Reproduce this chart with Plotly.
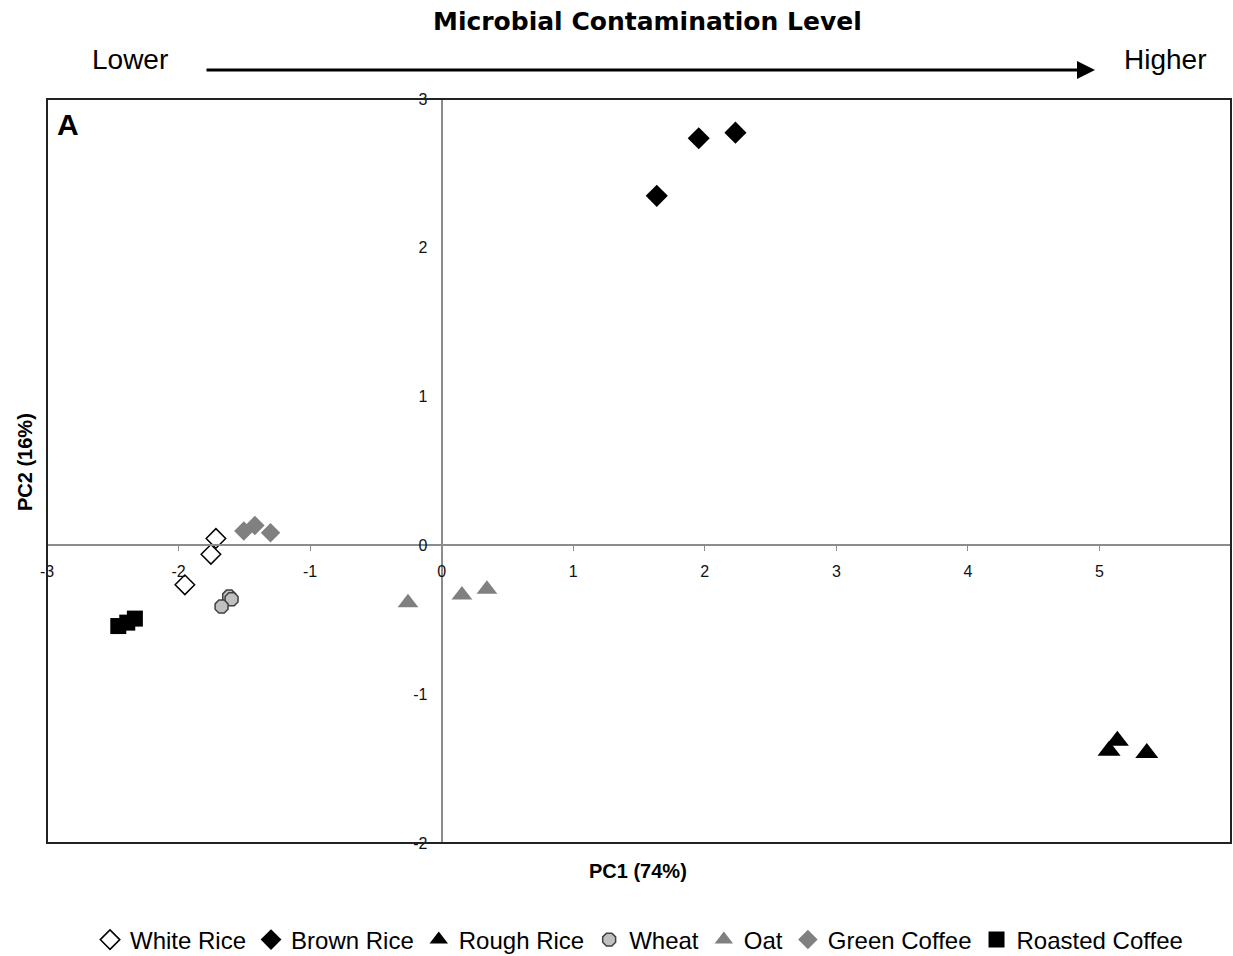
import plotly.graph_objects as go

# ---- data (PC1, PC2 scores) ----
white_rice_x = [-1.716, -1.754, -1.952]
white_rice_y = [0.047, -0.060, -0.265]
brown_rice_x = [1.635, 1.954, 2.233]
brown_rice_y = [2.349, 2.736, 2.774]
rough_rice_x = [5.073, 5.136, 5.360]
rough_rice_y = [-1.380, -1.313, -1.396]
wheat_x = [-1.615, -1.597, -1.673]
wheat_y = [-0.344, -0.362, -0.411]
oat_x = [-0.256, 0.154, 0.344]
oat_y = [-0.385, -0.333, -0.295]
green_coffee_x = [-1.504, -1.420, -1.301]
green_coffee_y = [0.096, 0.134, 0.085]
roasted_coffee_x = [-2.458, -2.390, -2.332]
roasted_coffee_y = [-0.542, -0.519, -0.492]

x_ticks = [-3, -2, -1, 0, 1, 2, 3, 4, 5, 6]
y_ticks = [-2, -1, 0, 1, 2, 3]

series = [
    ("White Rice", white_rice_x, white_rice_y, dict(symbol="diamond-open", size=15, color="black", line=dict(width=1.5, color="black"))),
    ("Brown Rice", brown_rice_x, brown_rice_y, dict(symbol="diamond", size=17, color="black")),
    ("Rough Rice", rough_rice_x, rough_rice_y, dict(symbol="triangle-up", size=20, color="black")),
    ("Wheat", wheat_x, wheat_y, dict(symbol="octagon", size=14, color="#c0c0c0", line=dict(width=1.5, color="#404040"))),
    ("Oat", oat_x, oat_y, dict(symbol="triangle-up", size=18, color="#808080")),
    ("Green Coffee", green_coffee_x, green_coffee_y, dict(symbol="diamond", size=15, color="#808080")),
    ("Roasted Coffee", roasted_coffee_x, roasted_coffee_y, dict(symbol="square", size=16, color="black")),
]

fig = go.Figure()
for name, xs, ys, mk in series:
    fig.add_trace(go.Scatter(x=xs, y=ys, mode="markers", name=name, marker=mk))

font = "Liberation Sans, Arial, sans-serif"
L, T, W, H = 47, 99, 1184, 744


def px(xp):
    return (xp - L) / W


def py(yp):
    return (T + H - yp) / H


def label(text, x, y, size, fam=font, angle=0):
    return dict(text=text, xref="paper", yref="paper", x=px(x), y=py(y),
                xanchor="center", yanchor="middle", showarrow=False, textangle=angle,
                font=dict(size=size, family=fam, color="black"))


fig.update_layout(
    width=1233, height=956,
    margin=dict(l=L, r=1233 - L - W, t=T, b=956 - T - H, autoexpand=False),
    paper_bgcolor="white", plot_bgcolor="white",
    font=dict(family=font, color="black"),
    showlegend=True,
    legend=dict(orientation="h", x=0.5, xanchor="center", y=py(940), yanchor="middle",
                font=dict(size=24, family=font), itemwidth=30, tracegroupgap=0),
    xaxis=dict(range=[-3, 6], tickvals=x_ticks, ticktext=[str(v) for v in x_ticks],
               showgrid=False, zeroline=False,
               showline=True, linecolor="#8c8c8c", linewidth=2,
               anchor="free", position=0.4, ticks="outside", ticklen=5, tickcolor="#8c8c8c",
               ticklabelstandoff=6,
               tickfont=dict(size=16, color="#111111")),
    yaxis=dict(range=[-2, 3], tickvals=y_ticks, ticktext=[str(v) for v in y_ticks],
               showgrid=False, zeroline=False,
               showline=True, linecolor="#8c8c8c", linewidth=2,
               anchor="free", position=1 / 3, ticks="", ticklabelstandoff=10,
               tickfont=dict(size=16, color="#111111")),
    shapes=[dict(type="rect", xref="paper", yref="paper", x0=0, x1=1, y0=0, y1=1,
                 line=dict(color="#222222", width=2), layer="above")],
    annotations=[
        label("<b>Microbial Contamination Level</b>", 647, 22, 25, "DejaVu Sans, sans-serif"),
        label("Lower", 130, 60, 28),
        label("Higher", 1165, 60, 28),
        dict(text="", xref="paper", yref="paper", x=px(1095), y=py(70),
             ax=-890, ay=0, showarrow=True, arrowhead=2, arrowsize=1.2, arrowwidth=3,
             arrowcolor="black"),
        label("<b>PC1 (74%)</b>", 638, 871, 20),
        label("<b>PC2 (16%)</b>", 25, 462, 20, angle=-90),
        label("<b>A</b>", 68, 125, 30),
    ],
)

fig.write_html("out.html", config={"displayModeBar": False},
               post_script="document.body.style.margin='0px';")
